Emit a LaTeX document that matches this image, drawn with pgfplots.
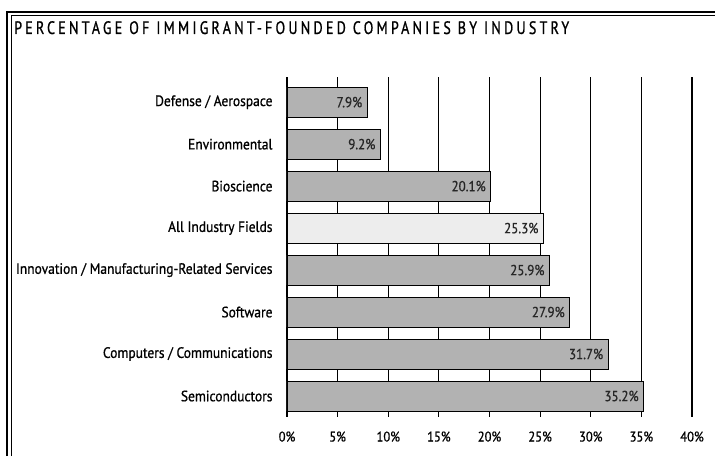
\documentclass[border=0pt]{standalone}
\usepackage{pgfplots}
\pgfplotsset{compat=1.18}
\usepackage{fontspec}
\setmainfont{PT Sans}
\newfontfamily\condfont[FakeStretch=0.9,FakeBold=0.8]{PT Sans}
\newfontfamily\titlefont[FakeStretch=0.78,LetterSpace=18,FakeBold=0.9]{PT Sans}
\definecolor{barg}{gray}{0.70}
\definecolor{barl}{gray}{0.93}
\begin{document}
\begin{tikzpicture}
\useasboundingbox (0pt,0pt) rectangle (715pt,456pt);
\draw[line width=1.6pt] (7pt,0pt) -- (7pt,444pt) -- (715pt,444pt);
\draw[line width=0.5pt] (11pt,0pt) -- (11pt,440.5pt) -- (715pt,440.5pt);
\node[anchor=base west, inner sep=0pt, font=\titlefont\fontsize{18}{18}\selectfont] at (14pt,422pt) {PERCENTAGE OF IMMIGRANT-FOUNDED COMPANIES BY INDUSTRY};
\begin{axis}[
  at={(287pt,379pt)}, anchor=north west, scale only axis,
  width=405pt, height=340pt,
  xmin=0, xmax=40, ymin=-0.5, ymax=7.6,
  axis line style={draw=none},
  /pgf/number format/assume math mode=true,
  xtick={0,5,...,40},
  xticklabel={\pgfmathprintnumber{\tick}\%},
  xmajorgrids, grid style={black, line width=1.1pt},
  major tick length=0pt,
  ytick={0,...,7},
  yticklabels={Semiconductors, Computers / Communications, Software, Innovation / Manufacturing-Related Services, All Industry Fields, Bioscience, Environmental, Defense / Aerospace},
  yticklabel style={font=\condfont\fontsize{15}{16}\selectfont, xshift=-11pt},
  xticklabel style={font=\condfont\fontsize{14}{15}\selectfont, yshift=-11pt},
  xbar, bar width=30pt, bar shift=0pt,
  nodes near coords={\pgfmathprintnumber[fixed,fixed zerofill,precision=1]{\pgfplotspointmeta}\%},
  every node near coord/.append style={anchor=east, xshift=-1pt, font=\condfont\fontsize{14.5}{15}\selectfont, text=black!85},
]
\addplot[fill=barg, draw=black, line width=0.9pt] coordinates {
  (7.9,7) (9.2,6) (20.1,5) (25.9,3) (27.9,2) (31.7,1) (35.2,0)
};
\addplot[fill=barl, draw=black, line width=0.9pt] coordinates {
  (25.3,4)
};
\end{axis}
\end{tikzpicture}
\end{document}
